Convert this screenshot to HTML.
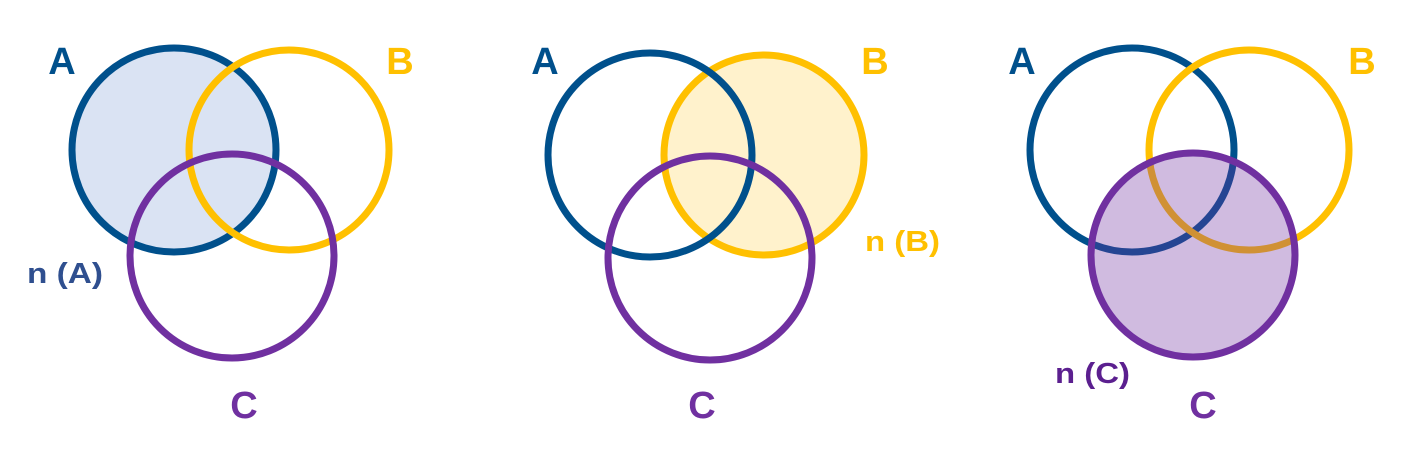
<!DOCTYPE html>
<html><head><style>body{margin:0;background:#fff}svg{display:block}</style></head><body>
<svg width="1422" height="466" viewBox="0 0 1422 466" xmlns="http://www.w3.org/2000/svg" font-family="Liberation Sans, sans-serif" font-weight="bold">
<g fill="none" stroke-width="7">
<circle cx="174" cy="150" r="102" fill="#dae3f3" stroke="#00508c"/>
<circle cx="289" cy="150" r="100" stroke="#ffc000"/>
<circle cx="232" cy="256" r="102" stroke="#7030a0"/>
<circle cx="764" cy="155" r="100" fill="#fff2cc" stroke="#ffc000"/>
<circle cx="650" cy="155" r="102" stroke="#00508c"/>
<circle cx="710" cy="258" r="102" stroke="#7030a0"/>
<circle cx="1132" cy="150" r="102" stroke="#00508c"/>
<circle cx="1249" cy="150" r="100" stroke="#ffc000"/>
<circle cx="1193" cy="255" r="102" fill="rgba(112,48,160,0.33)" stroke="#7030a0"/>
</g>
<g font-size="38" text-anchor="middle">
<text x="62" y="74" fill="#00508c">A</text>
<text x="400" y="74" fill="#ffc000">B</text>
<text x="244" y="418" fill="#7030a0">C</text>
<text x="545" y="74" fill="#00508c">A</text>
<text x="875" y="74" fill="#ffc000">B</text>
<text x="702" y="418" fill="#7030a0">C</text>
<text x="1022" y="74" fill="#00508c">A</text>
<text x="1362" y="74" fill="#ffc000">B</text>
<text x="1203" y="418" fill="#7030a0">C</text>
</g>
<g font-size="29">
<text x="27" y="283" fill="#2f4f8f" textLength="76" lengthAdjust="spacingAndGlyphs">n (A)</text>
<text x="865" y="251" fill="#ffc000" textLength="75" lengthAdjust="spacingAndGlyphs">n (B)</text>
<text x="1055" y="383" fill="#5b1f8f" textLength="75" lengthAdjust="spacingAndGlyphs">n (C)</text>
</g>
</svg>
</body></html>
